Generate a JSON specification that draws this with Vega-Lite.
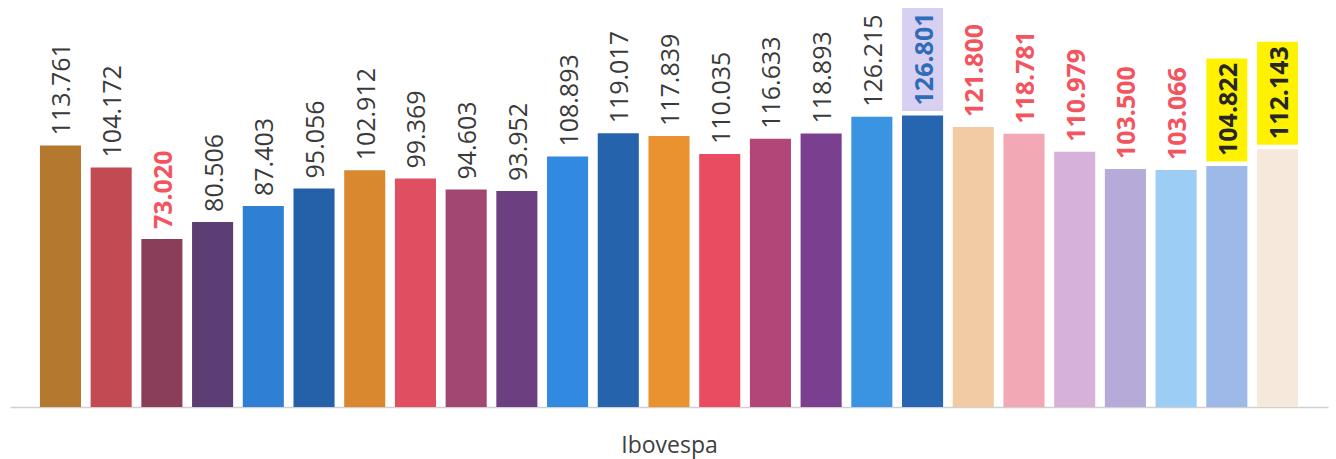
{
  "$schema": "https://vega.github.io/schema/vega-lite/v6.json",
  "width": 1318,
  "height": 407,
  "padding": {"left": 10, "top": 0, "right": 8, "bottom": 52},
  "autosize": {"type": "none"},
  "background": "white",
  "config": {
    "view": {"stroke": null},
    "locale": {"number": {"decimal": ",", "thousands": ".", "grouping": [3], "currency": ["R$", ""]}},
    "font": "Open Sans"
  },
  "data": {
    "values": [
      {"k": "01", "value": 113761, "grp": "n"},
      {"k": "02", "value": 104172, "grp": "n"},
      {"k": "03", "value": 73020, "grp": "r"},
      {"k": "04", "value": 80506, "grp": "n"},
      {"k": "05", "value": 87403, "grp": "n"},
      {"k": "06", "value": 95056, "grp": "n"},
      {"k": "07", "value": 102912, "grp": "n"},
      {"k": "08", "value": 99369, "grp": "n"},
      {"k": "09", "value": 94603, "grp": "n"},
      {"k": "10", "value": 93952, "grp": "n"},
      {"k": "11", "value": 108893, "grp": "n"},
      {"k": "12", "value": 119017, "grp": "n"},
      {"k": "13", "value": 117839, "grp": "n"},
      {"k": "14", "value": 110035, "grp": "n"},
      {"k": "15", "value": 116633, "grp": "n"},
      {"k": "16", "value": 118893, "grp": "n"},
      {"k": "17", "value": 126215, "grp": "n"},
      {"k": "18", "value": 126801, "grp": "b"},
      {"k": "19", "value": 121800, "grp": "r"},
      {"k": "20", "value": 118781, "grp": "r"},
      {"k": "21", "value": 110979, "grp": "r"},
      {"k": "22", "value": 103500, "grp": "r"},
      {"k": "23", "value": 103066, "grp": "r"},
      {"k": "24", "value": 104822, "grp": "y"},
      {"k": "25", "value": 112143, "grp": "y"}
    ]
  },
  "encoding": {
    "x": {
      "field": "k",
      "type": "nominal",
      "sort": null,
      "scale": {"paddingInner": 0.19, "paddingOuter": 0.59},
      "axis": {
        "title": "Ibovespa",
        "labels": false,
        "ticks": false,
        "domainColor": "#d0d0d0",
        "domainWidth": 1.5,
        "titleFont": "Open Sans",
        "titleFontSize": 23,
        "titleFontWeight": "normal",
        "titleColor": "#404040",
        "titlePadding": 27
      }
    },
    "y": {
      "field": "value",
      "type": "quantitative",
      "scale": {"domain": [0, 177000], "nice": false},
      "axis": null
    }
  },
  "layer": [
    {
      "mark": {"type": "bar"},
      "encoding": {
        "fill": {
          "field": "k",
          "type": "nominal",
          "legend": null,
          "scale": {
            "domain": ["01","02","03","04","05","06","07","08","09","10","11","12","13","14","15","16","17","18","19","20","21","22","23","24","25"],
            "range": ["#B5782F","#C24B53","#8A3E5A","#5C3D74","#2F80D4","#2461A9","#D9882F","#E04E61","#A24672","#6C4080","#3189E0","#2563AC","#E9922F","#E94C60","#B24679","#7A3F8F","#3A94E2","#2666B1","#F0CBA3","#F3A8B6","#D6B1DA","#B5AAD8","#9BCDF5","#9DB9E7","#F7E8DC"]
          }
        }
      }
    },
    {
      "transform": [{"filter": "datum.grp === 'b' || datum.grp === 'y'"}],
      "mark": {"type": "tick", "thickness": 103, "size": 41, "yOffset": -56, "opacity": 1},
      "encoding": {
        "fill": {
          "field": "grp",
          "type": "nominal",
          "legend": null,
          "scale": {"domain": ["b", "y"], "range": ["#D8D0F2", "#FFF200"]}
        }
      }
    },
    {
      "transform": [{"filter": "datum.grp === 'n'"}],
      "mark": {"type": "text", "angle": 270, "align": "left", "baseline": "middle", "dx": 10, "dy": 2, "fontSize": 25, "font": "Open Sans", "color": "#3a3a3a"},
      "encoding": {
        "text": {"field": "value", "type": "quantitative", "format": ",d"}
      }
    },
    {
      "transform": [{"filter": "datum.grp !== 'n'"}],
      "mark": {"type": "text", "angle": 270, "align": "left", "baseline": "middle", "dx": 10, "dy": 2, "fontSize": 25, "font": "Open Sans", "fontWeight": "bold"},
      "encoding": {
        "text": {"field": "value", "type": "quantitative", "format": ",d"},
        "color": {
          "field": "grp",
          "type": "nominal",
          "legend": null,
          "scale": {"domain": ["r", "b", "y"], "range": ["#F4545E", "#2F6DB8", "#262626"]}
        }
      }
    }
  ],
  "resolve": {"scale": {"fill": "independent", "color": "independent"}}
}
